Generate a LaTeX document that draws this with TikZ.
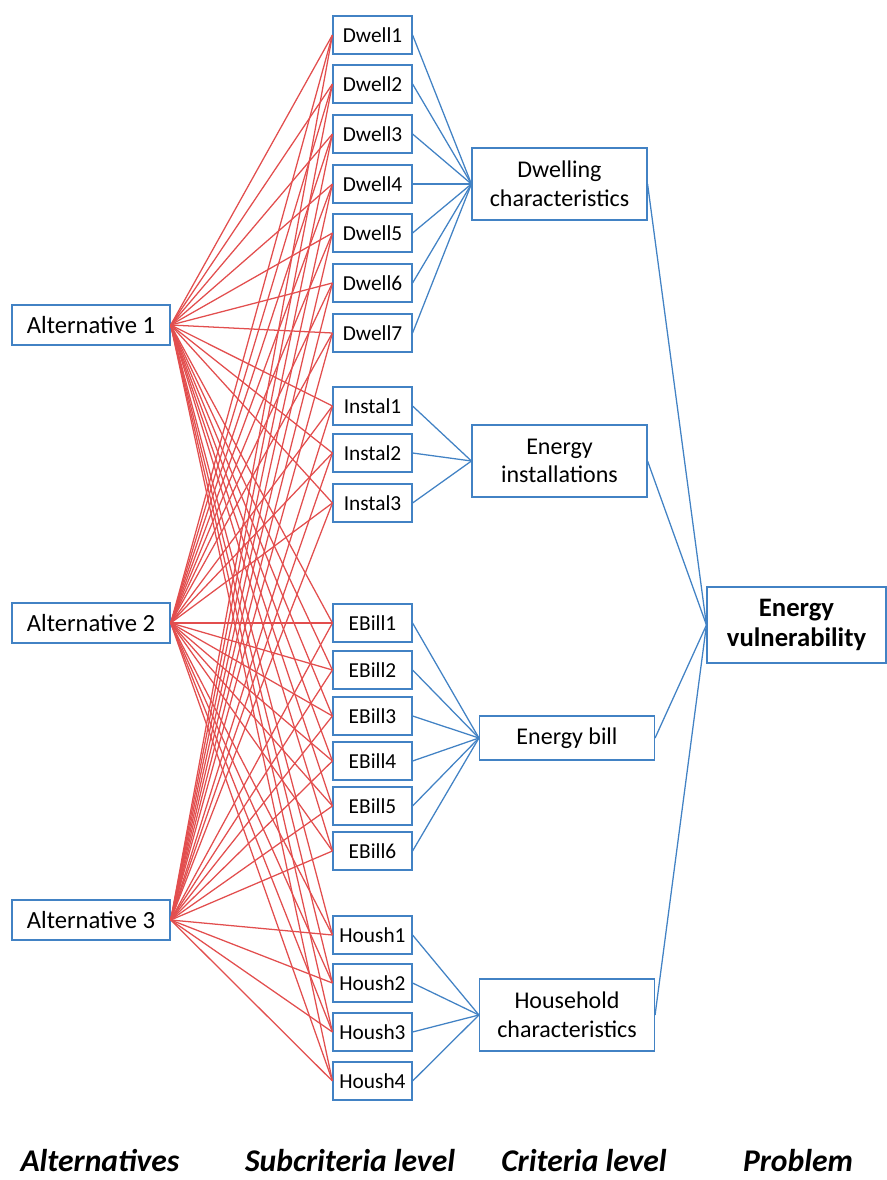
\documentclass[tikz,border=0pt]{standalone}
\usepackage{fontspec}
\setmainfont{Carlito}
\definecolor{boxblue}{RGB}{66,130,196}
\definecolor{linered}{RGB}{226,78,78}

\begin{document}
\begin{tikzpicture}[x=0.75pt, y=-0.75pt,
    altbox/.style={draw=boxblue, line width=1.1pt, minimum width=118.5pt, minimum height=30pt, inner sep=0pt, font=\fontsize{18.5}{21}\selectfont},
    subbox/.style={draw=boxblue, line width=1.1pt, minimum width=59pt, minimum height=28.5pt, inner sep=0pt, font=\fontsize{16}{18}\selectfont},
    critbox/.style={draw=boxblue, line width=1.1pt, minimum width=131pt, minimum height=54pt, inner sep=0pt, align=center, font=\fontsize{18}{21.5}\selectfont},
    probbox/.style={draw=boxblue, line width=1.1pt, minimum width=134pt, minimum height=57pt, inner sep=0pt, align=center, font=\fontsize{20}{22.5}\selectfont\bfseries},
    levellabel/.style={anchor=base, inner sep=0pt, font=\fontsize{23.7}{26}\selectfont\bfseries\itshape},
    redline/.style={draw=linered, line width=0.95pt},
    blueline/.style={draw=boxblue, line width=0.95pt}]

    \useasboundingbox (0,0) rectangle (886,1180);

    % Alternatives
    \node[altbox] (alt1) at (91,325) {Alternative 1};
    \node[altbox] (alt2) at (91,623) {Alternative 2};
    \node[altbox] (alt3) at (91,920) {Alternative 3};

    % Subcriteria
    \foreach \i/\y in {1/35,2/84,3/134,4/184,5/233,6/283,7/333}
        \node[subbox] (dw\i) at (372.5,\y) {Dwell\i};
    \foreach \i/\y in {1/406,2/453,3/503}
        \node[subbox] (in\i) at (372.5,\y) {Instal\i};
    \foreach \i/\y in {1/623,2/670,3/716,4/761,5/806,6/851}
        \node[subbox] (eb\i) at (372.5,\y) {EBill\i};
    \foreach \i/\y in {1/935,2/983,3/1032,4/1081}
        \node[subbox] (ho\i) at (372.5,\y) {Housh\i};

    % Criteria
    \node[critbox] (dwell) at (559.5,184) {Dwelling\\characteristics};
    \node[critbox] (inst) at (559.5,461) {Energy\\installations};
    \node[critbox, minimum height=33pt] (bill) at (567,738) {Energy bill};
    \node[critbox] (hous) at (567,1015) {Household\\characteristics};

    % Problem
    \node[probbox] (prob) at (796.5,625) {Energy\\vulnerability};

    % Alternatives to subcriteria
    \foreach \a in {1,2,3}
        \foreach \s in {dw1,dw2,dw3,dw4,dw5,dw6,dw7,in1,in2,in3,eb1,eb2,eb3,eb4,eb5,eb6,ho1,ho2,ho3,ho4}
            \draw[redline] (alt\a.east) -- (\s.west);

    % Subcriteria to criteria
    \foreach \i in {1,...,7}
        \draw[blueline] (dw\i.east) -- (dwell.west);
    \foreach \i in {1,2,3}
        \draw[blueline] (in\i.east) -- (inst.west);
    \foreach \i in {1,...,6}
        \draw[blueline] (eb\i.east) -- (bill.west);
    \foreach \i in {1,...,4}
        \draw[blueline] (ho\i.east) -- (hous.west);

    % Criteria to problem
    \foreach \c in {dwell,inst,bill,hous}
        \draw[blueline] (\c.east) -- (prob.west);

    % Level labels
    \node[levellabel] (lalt) at (100,1171) {Alternatives};
    \node[levellabel] (lsub) at (350,1171) {Subcriteria level};
    \node[levellabel] (lcrit) at (584,1171) {Criteria level};
    \node[levellabel] (lprob) at (798,1171) {Problem};

\end{tikzpicture}
\end{document}
